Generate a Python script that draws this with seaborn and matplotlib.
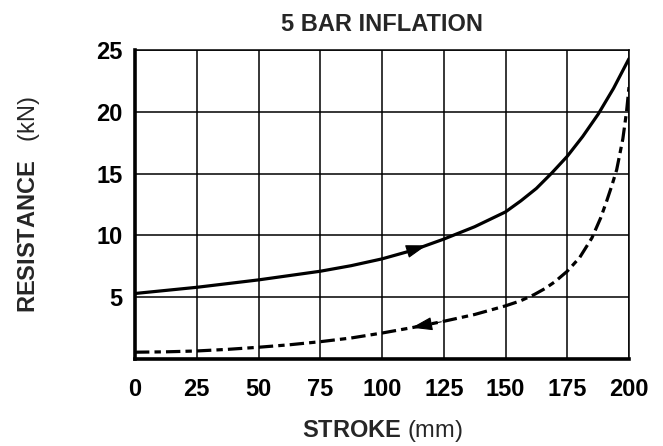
import numpy as np
import pandas as pd
import matplotlib
matplotlib.use("Agg")
import matplotlib.pyplot as plt
import seaborn as sns

# values
stroke_load = [0, 12.5, 25, 37.5, 50, 62.5, 75, 87.5, 100, 112.5, 125, 137.5,
               150, 156.25, 162.5, 168.75, 175, 181.25, 187.5, 193.75, 200]
resist_load = [5.3, 5.55, 5.8, 6.1, 6.4, 6.75, 7.1, 7.55, 8.1, 8.8, 9.7, 10.7,
               11.9, 12.8, 13.8, 15.05, 16.4, 18.0, 19.8, 21.9, 24.3]

stroke_unload = [0, 12.5, 25, 37.5, 50, 62.5, 75, 87.5, 100, 112.5, 125, 137.5,
                 150, 156, 161.5, 166, 170, 175, 180, 185, 188.5, 191, 193, 195,
                 197.5, 199, 200]
resist_unload = [0.55, 0.58, 0.65, 0.78, 0.95, 1.15, 1.4, 1.7, 2.1, 2.55, 3.05, 3.6,
                 4.3, 4.7, 5.2, 5.7, 6.25, 7.1, 8.2, 9.8, 11.4, 12.8, 14.0, 15.3,
                 17.8, 20.0, 22.0]

x_ticks = [0, 25, 50, 75, 100, 125, 150, 175, 200]
y_ticks = [5, 10, 15, 20, 25]

# where the direction arrows sit (stroke values: tail, tip)
arrow_load = (106, 118)
arrow_unload = (124, 112)

sns.set_style("white")
plt.rcParams['font.family'] = ['Liberation Sans', 'DejaVu Sans']
plt.rcParams['mathtext.fontset'] = 'custom'
plt.rcParams['mathtext.rm'] = 'Liberation Sans'
plt.rcParams['mathtext.bf'] = 'Liberation Sans:bold'

load_df = pd.DataFrame({"stroke": stroke_load, "resistance": resist_load})
unload_df = pd.DataFrame({"stroke": stroke_unload, "resistance": resist_unload})

fig = plt.figure(figsize=(6.63, 4.46), dpi=100)
ax = fig.add_axes([135 / 663, 1 - 359 / 446, 494 / 663, 309 / 446])

sns.lineplot(data=load_df, x="stroke", y="resistance", ax=ax, color="black",
             linewidth=2.3, estimator=None, sort=False)
sns.lineplot(data=unload_df, x="stroke", y="resistance", ax=ax, color="black",
             linewidth=2.3, estimator=None, sort=False)
ax.lines[1].set_dashes([4.5, 1.6, 2.0, 1.6])

# direction arrows
for xs, ys, (t0, t1) in [(stroke_load, resist_load, arrow_load),
                         (stroke_unload, resist_unload, arrow_unload)]:
    tail = (t0, np.interp(t0, xs, ys))
    tip = (t1, np.interp(t1, xs, ys))
    ax.annotate("", xy=tip, xytext=tail,
                arrowprops=dict(arrowstyle="-|>,head_length=1.3,head_width=0.42",
                                color="black", lw=0.8, mutation_scale=10,
                                shrinkA=0, shrinkB=0))

ax.set_xlim(0, 200)
ax.set_ylim(0, 25)
ax.set_xticks(x_ticks)
ax.set_yticks(y_ticks)
ax.grid(True, color="black", linewidth=1.1)
ax.set_axisbelow(True)
ax.tick_params(length=0, labelsize=17, colors="black")
ax.tick_params(axis="x", pad=14)
ax.tick_params(axis="y", pad=9)
for lab in ax.get_xticklabels() + ax.get_yticklabels():
    lab.set_fontweight("bold")

for side in ["top", "right"]:
    ax.spines[side].set_linewidth(1.1)
for side in ["left", "bottom"]:
    ax.spines[side].set_linewidth(2.6)
for sp in ax.spines.values():
    sp.set_color("black")
    sp.set_visible(True)

ax.set_xlabel(r"$\mathbf{STROKE}$ (mm)", fontsize=17, labelpad=12)
ax.set_ylabel(r"$\mathbf{RESISTANCE}$   (kN)", fontsize=17, labelpad=39)
ax.set_title("5 BAR INFLATION", fontsize=17, fontweight="bold", pad=14)

fig.savefig("out.png", dpi=100)
